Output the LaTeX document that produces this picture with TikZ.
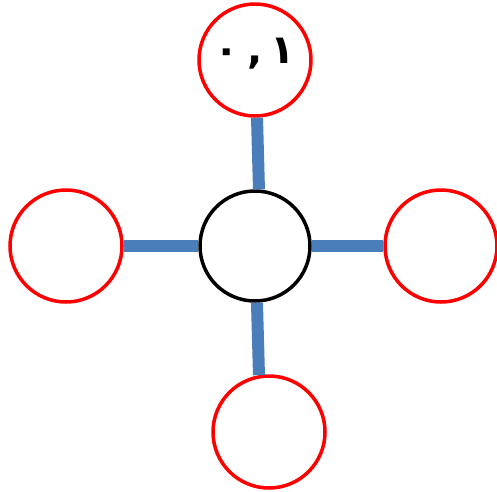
\documentclass[tikz,border=0pt]{standalone}
\usepackage{fontspec}
\newfontfamily\arabicfont[Script=Arabic]{DejaVu Sans}
\TeXXeTstate=1
\definecolor{linkblue}{RGB}{74,126,187}
\begin{document}
\begin{tikzpicture}[x=1pt,y=-1pt,
  ring/.style={circle,draw=red,line width=3.5pt,minimum size=112pt,inner sep=0pt},
  hub/.style={circle,draw=black,line width=3.5pt,minimum size=110pt,inner sep=0pt},
  link/.style={draw=linkblue,line width=12pt}]
\useasboundingbox (0,0) rectangle (497,491);
\node[hub] (center) at (255,246) {};
\node[ring] (top) at (255,60) {};
\node[ring] (left) at (66,246) {};
\node[ring] (right) at (441,246) {};
\node[ring] (bottom) at (269,432) {};
\node[font=\arabicfont\bfseries\fontsize{40}{40}\selectfont,inner sep=0pt] (lbl) at (255,54) {\beginR ١\hspace{8pt},\hspace{8pt}٠\endR};
\draw[link] (top.-88) -- (center.86);
\draw[link] (center.-88) -- (bottom.100);
\draw[link] (left.east) -- (center.west);
\draw[link] (center.east) -- (right.west);
\end{tikzpicture}
\end{document}
